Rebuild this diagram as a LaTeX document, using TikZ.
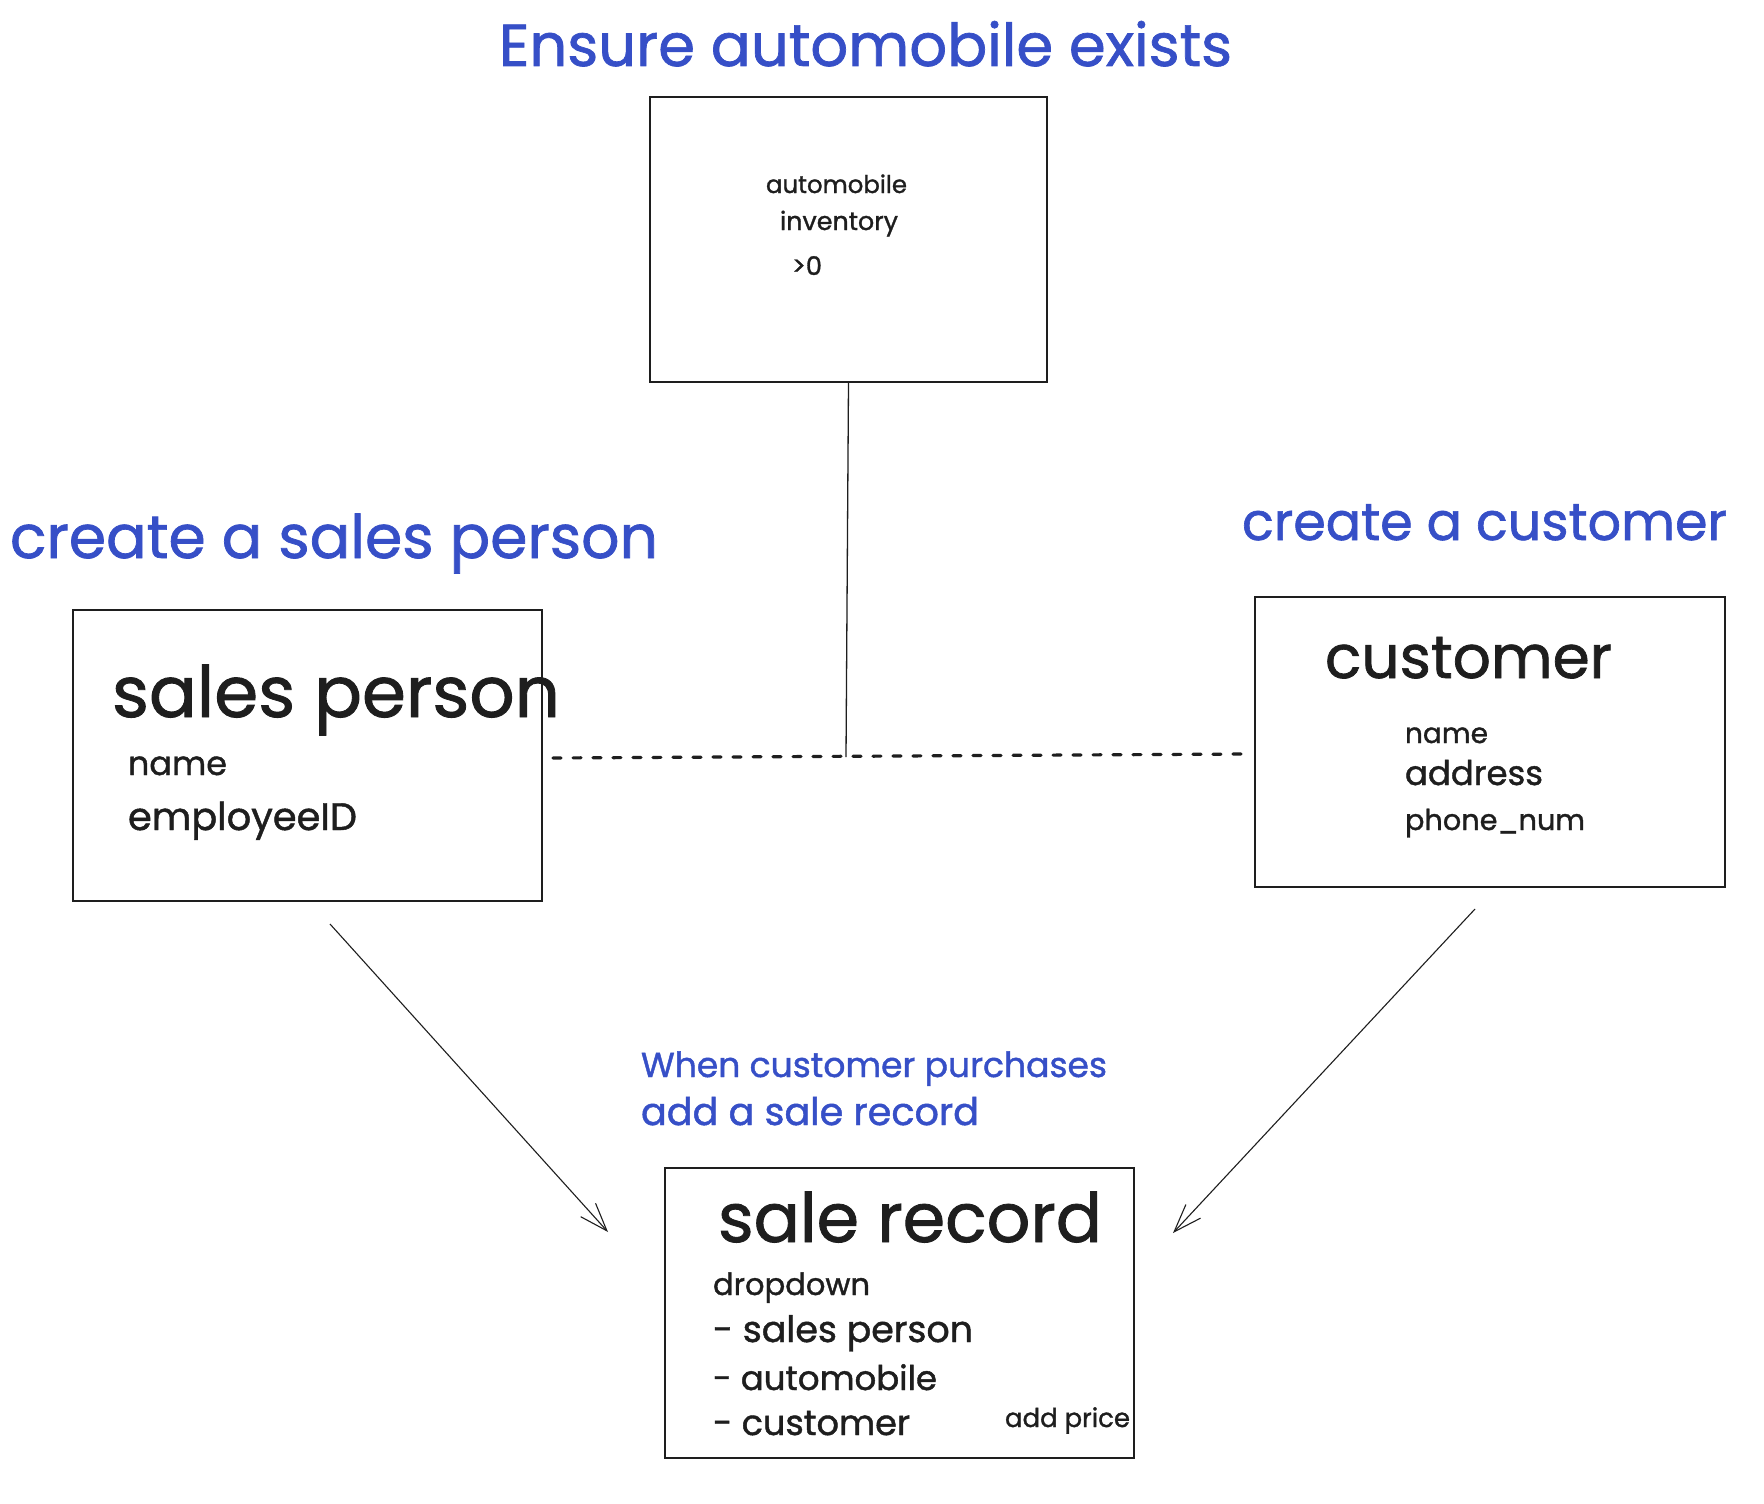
\documentclass[tikz,border=0pt]{standalone}
\usepackage{fontspec}
\setmainfont{Poppins}[FakeBold=1.2,AutoFakeBold=1.2]
\usetikzlibrary{arrows.meta}
\definecolor{ink}{HTML}{1E1E1E}
\definecolor{exblue}{HTML}{364FC7}
\newcommand\fitw[2]{\resizebox{#1pt}{!}{\fontsize{20}{24}\selectfont\bfseries #2}}
\begin{document}
\begin{tikzpicture}[x=1pt,y=-1pt,
  box/.style={draw=ink, line width=1.6, anchor=north west, inner sep=0, outer sep=0},
  lbl/.style={anchor=base west, inner sep=0, outer sep=0, text=ink},
  bl/.style={lbl, text=exblue},
  dashline/.style={draw=ink, line width=3.2, dash pattern=on 8 off 12, line cap=round},
  conn/.style={draw=ink, line width=1.3},
  arr/.style={draw=ink, line width=1.1, -{Straight Barb[length=28pt,width=20pt,line width=1.1pt]}}]
\useasboundingbox (0,0) rectangle (1764,1504);
\fill[white] (0,0) rectangle (1764,1504);

% boxes
\node[box, minimum width=397, minimum height=285] (inv) at (650,97) {};
\node[box, minimum width=469, minimum height=291] (sp) at (73,610) {};
\node[box, minimum width=470, minimum height=290] (cu) at (1255,597) {};
\node[box, minimum width=469, minimum height=290] (sr) at (665,1168) {};

% blue headings
\node[bl] (t1) at (499,66) {\fitw{733}{Ensure automobile exists}};
\node[bl] (t2) at (10,558) {\fitw{648}{create a sales person}};
\node[bl] (t3) at (1242,540) {\fitw{485}{create a customer}};
\node[bl] (t4) at (641,1077) {\fitw{466}{When customer purchases}};
\node[bl] (t5) at (641,1125) {\fitw{338}{add a sale record}};

% inventory box
\node[lbl] (i1) at (766,193) {\fitw{141}{automobile}};
\node[lbl] (i2) at (780,230) {\fitw{118}{inventory}};
\node[lbl] (i3) at (792,275) {\fitw{30}{>0}};

% sales person box
\node[lbl] (s1) at (112,717) {\fitw{448}{sales person}};
\node[lbl] (s2) at (128,775) {\fitw{99}{name}};
\node[lbl] (s3) at (128,830) {\fitw{229}{employeeID}};

% customer box
\node[lbl] (c1) at (1325,678) {\fitw{287}{customer}};
\node[lbl] (c2) at (1405,743) {\fitw{83}{name}};
\node[lbl] (c3) at (1405,785) {\fitw{138}{address}};
\node[lbl] (c4) at (1405,830) {\fitw{180}{phone\_num}};

% sale record box
\node[lbl] (r1) at (718,1242) {\fitw{384}{sale record}};
\node[lbl] (r2) at (713,1295) {\fitw{157}{dropdown}};
\node[lbl] (r3) at (713,1342) {\fitw{260}{- sales person}};
\node[lbl] (r4) at (713,1390) {\fitw{224}{- automobile}};
\node[lbl] (r5) at (713,1435) {\fitw{197}{- customer}};
\node[lbl] (r6) at (1005,1427) {\fitw{125}{add price}};

% connectors
\coordinate (j) at (846,757);
\coordinate (dl) at (553,758);
\coordinate (dr) at (1245,754);
\coordinate (a1s) at (330,924);
\coordinate (a1e) at (608,1232);
\coordinate (a2s) at (1475,909);
\coordinate (a2e) at (1173,1233);

\draw[conn] (inv.south) -- (j);
\draw[dashline] (dl) -- (dr);
\draw[arr] (a1s) -- (a1e);
\draw[arr] (a2s) -- (a2e);
\end{tikzpicture}
\end{document}
